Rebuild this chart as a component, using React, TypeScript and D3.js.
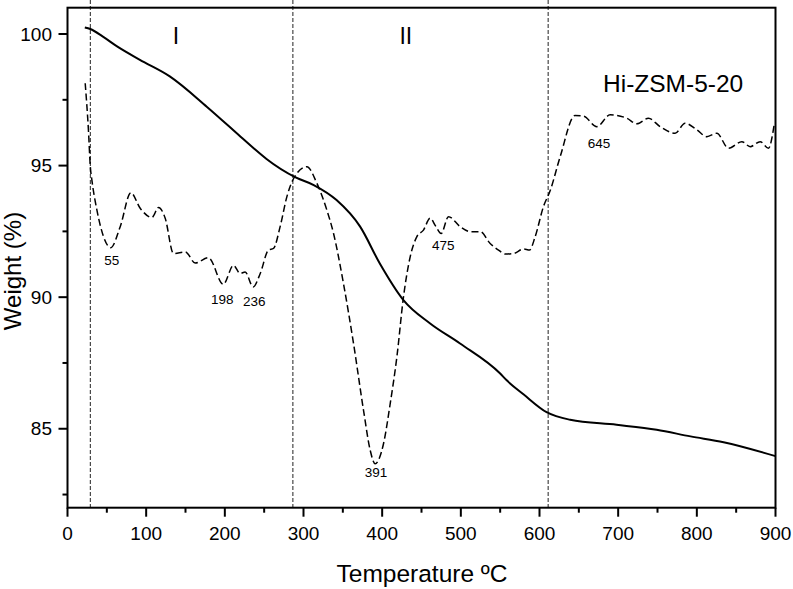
import React from "react";
import * as d3 from "d3";

// TG curve: weight (%) vs temperature (ºC)
const tgTemps = [22, 29, 45, 63, 92, 130, 177, 220, 237, 253, 290, 313, 342, 372, 397, 427, 461, 499, 550, 558, 580, 609, 639, 698, 749, 792, 834, 900];
const tgWeights = [100.25, 100.19, 99.9, 99.53, 99.02, 98.39, 97.24, 96.1, 95.65, 95.25, 94.55, 94.26, 93.69, 92.68, 91.28, 89.89, 89.0, 88.24, 87.1, 86.85, 86.3, 85.63, 85.34, 85.15, 84.96, 84.71, 84.49, 83.96];

// DTG trace, drawn on the weight axis
const dtgTemps = [22.5, 26.7, 29, 31, 37.4, 45.8, 55, 67, 80.6, 92.4, 107.3, 115.7, 124.2, 134.7, 149.9, 162.3, 179.2, 198, 211, 219.5, 225.8, 236, 245, 255.5, 261.9, 270.3, 278.9, 287.3, 304.3, 317, 329.7, 338.2, 350.8, 363.6, 376.3, 384.8, 391, 401.7, 410.2, 418.7, 427.1, 435.6, 444.1, 452.5, 461, 468, 475, 484.3, 499.2, 511.9, 524.6, 537.3, 547.9, 556.4, 567, 579.6, 587.3, 594.5, 605, 613.6, 626.3, 645, 655.9, 672.8, 689.8, 711, 723.7, 738.5, 753.4, 772.4, 785.1, 800, 812.7, 825.4, 840.2, 857.2, 867.8, 880.5, 891.1, 898.3];
const dtgValues = [98.13, 96.3, 94.96, 94.45, 93.31, 92.3, 91.88, 92.68, 93.97, 93.38, 93.03, 93.41, 93.0, 91.66, 91.72, 91.3, 91.5, 90.49, 91.21, 90.9, 90.96, 90.39, 90.9, 91.79, 91.85, 92.68, 93.82, 94.5, 94.96, 94.33, 93.31, 92.42, 90.52, 88.24, 85.7, 84.18, 83.67, 84.43, 85.95, 87.73, 90.01, 91.53, 92.3, 92.55, 93.0, 92.7, 92.42, 93.06, 92.68, 92.49, 92.49, 92.04, 91.79, 91.64, 91.66, 91.83, 91.79, 92.3, 93.44, 94.05, 95.34, 96.9, 96.88, 96.48, 96.93, 96.8, 96.59, 96.8, 96.48, 96.23, 96.61, 96.36, 96.1, 96.23, 95.66, 95.91, 95.72, 95.91, 95.66, 96.55];

// Annotated DTG peaks (temperature, ºC)
const peakTemps = [55, 198, 236, 391, 475, 645];
// label placement relative to each peak point [dx, dy]
const peakLabelOffsets: [number, number][] = [[1, 17], [-1, 20], [1, 19], [1, 13], [2, 17], [24, 32]];

// Stage boundaries (ºC) and stage names
const boundaryTemps = [29, 286.5, 611];
const stageNames = ["I", "II"];
const stageTemps = [138, 430];

const xTicks = [0, 100, 200, 300, 400, 500, 600, 700, 800, 900];
const xMinorTicks = [50, 150, 250, 350, 450, 550, 650, 750, 850];
const yTicks = [85, 90, 95, 100];
const yMinorTicks = [82.5, 87.5, 92.5, 97.5];

const FONT = "'Liberation Sans', Arial, Helvetica, sans-serif";

export default function App() {
  const width = 793;
  const height = 589;
  const left = 67.5, right = 775.5, top = 7.7, bottom = 507.7;

  const x = d3.scaleLinear().domain([0, 900]).range([left, right]);
  const y = d3.scaleLinear().domain([82, 101]).range([bottom, top]);

  const tgLine = d3
    .line<number>()
    .x((_, i) => x(tgTemps[i]))
    .y((w) => y(w))
    .curve(d3.curveMonotoneX);

  const dtgLine = d3
    .line<number>()
    .x((_, i) => x(dtgTemps[i]))
    .y((v) => y(v))
    .curve(d3.curveMonotoneX);

  const valueAt = (t: number) => dtgValues[dtgTemps.indexOf(t)];

  return (
    <svg
      width={width}
      height={height}
      style={{ position: "absolute", left: 0, top: 0, background: "#fff" }}
      fontFamily={FONT}
    >
      <rect x={0} y={0} width={width} height={height} fill="#fff" />

      {/* stage boundaries */}
      {boundaryTemps.map((t) => (
        <line
          key={t}
          x1={x(t)}
          x2={x(t)}
          y1={0}
          y2={bottom}
          stroke="#222"
          strokeWidth={1}
          strokeDasharray="4,2"
        />
      ))}

      {/* DTG */}
      <path
        d={dtgLine(dtgValues) || ""}
        fill="none"
        stroke="#000"
        strokeWidth={1.5}
        strokeDasharray="7,3.5"
      />

      {/* TG */}
      <path d={tgLine(tgWeights) || ""} fill="none" stroke="#000" strokeWidth={2} />

      {/* frame */}
      <rect
        x={left}
        y={top}
        width={right - left}
        height={bottom - top}
        fill="none"
        stroke="#000"
        strokeWidth={2}
      />

      {/* x axis ticks */}
      {xTicks.map((t) => (
        <g key={t}>
          <line x1={x(t)} x2={x(t)} y1={bottom} y2={bottom + 9} stroke="#000" strokeWidth={2} />
          <text x={x(t)} y={540} fontSize={19} textAnchor="middle" fill="#000">
            {t}
          </text>
        </g>
      ))}
      {xMinorTicks.map((t) => (
        <line key={t} x1={x(t)} x2={x(t)} y1={bottom} y2={bottom + 5} stroke="#000" strokeWidth={2} />
      ))}

      {/* y axis ticks */}
      {yTicks.map((v) => (
        <g key={v}>
          <line x1={left - 9} x2={left} y1={y(v)} y2={y(v)} stroke="#000" strokeWidth={2} />
          <text x={52} y={y(v)} dy="0.35em" fontSize={19} textAnchor="end" fill="#000">
            {v}
          </text>
        </g>
      ))}
      {yMinorTicks.map((v) => (
        <line key={v} x1={left - 5} x2={left} y1={y(v)} y2={y(v)} stroke="#000" strokeWidth={2} />
      ))}

      {/* peak labels */}
      {peakTemps.map((t, i) => (
        <text
          key={t}
          x={x(t) + peakLabelOffsets[i][0]}
          y={y(valueAt(t)) + peakLabelOffsets[i][1]}
          fontSize={13.5}
          textAnchor="middle"
          fill="#000"
        >
          {t}
        </text>
      ))}

      {/* stage names */}
      {stageNames.map((s, i) => (
        <text key={s} x={x(stageTemps[i])} y={43.5} fontSize={23} textAnchor="middle" fill="#000">
          {s}
        </text>
      ))}

      <text x={603} y={92} fontSize={24.5} fill="#000">
        Hi-ZSM-5-20
      </text>

      <text x={422} y={581.5} fontSize={24.5} textAnchor="middle" fill="#000">
        Temperature ºC
      </text>
      <text
        transform={`translate(21, 271) rotate(-90)`}
        fontSize={24}
        textAnchor="middle"
        fill="#000"
      >
        Weight (%)
      </text>
    </svg>
  );
}
